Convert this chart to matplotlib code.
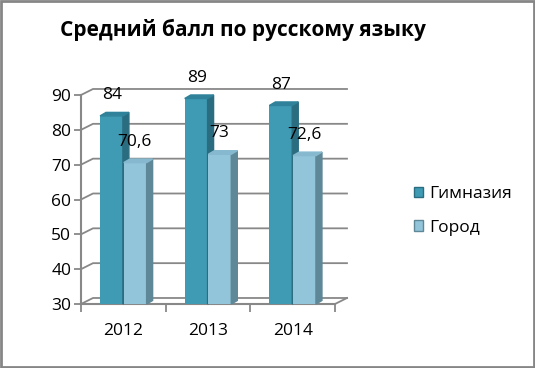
import matplotlib.pyplot as plt
from matplotlib.patches import Polygon, Rectangle

years = ["2012", "2013", "2014"]
gymnasium = [84, 89, 87]
city = [70.6, 73, 72.6]
gym_labels = ["84", "89", "87"]
city_labels = ["70,6", "73", "72,6"]

plt.rcParams["font.family"] = ["Open Sans", "DejaVu Sans"]

GRID = "#888888"
# front / side / top colours for each series
gym_cols = ("#3f9ab4", "#2a6d80", "#2f8299")
city_cols = ("#92c5da", "#5e8797", "#86b9cf")

fig = plt.figure(figsize=(5.35, 3.68), dpi=100)
ax = fig.add_axes([81 / 535, 64 / 368, 254 / 535, 209 / 368])
ax.set_xlim(0, 3)
ax.set_ylim(30, 90)

# depth of the back wall and of the bars, in data units
wall_dx, wall_dy = 12 / 84.7, 6 / 3.48
bar_dx, bar_dy = 6 / 84.7, 3.5 / 3.48
width = 0.27

# back wall gridlines and floor
for y in range(30, 91, 10):
    ax.plot([0, wall_dx, 3 + wall_dx], [y, y + wall_dy, y + wall_dy],
            color=GRID, lw=1.3, clip_on=False, zorder=1)
ax.plot([3, 3 + wall_dx], [30, 30 + wall_dy], color=GRID, lw=1.3,
        clip_on=False, zorder=1)


def bar3d(x0, value, cols):
    ax.bar(x0, value - 30, width, bottom=30, align="edge", color=cols[0],
           zorder=3, clip_on=False)
    side = [(x0 + width, 30), (x0 + width + bar_dx, 30 + bar_dy),
            (x0 + width + bar_dx, value + bar_dy), (x0 + width, value)]
    top = [(x0, value), (x0 + bar_dx, value + bar_dy),
           (x0 + width + bar_dx, value + bar_dy), (x0 + width, value)]
    ax.add_patch(Polygon(side, closed=True, color=cols[1], zorder=3, clip_on=False))
    ax.add_patch(Polygon(top, closed=True, color=cols[2], zorder=3, clip_on=False))


for i in range(len(years)):
    c = i + 0.5
    bar3d(c - width - 0.005, gymnasium[i], gym_cols)
    bar3d(c + 0.005, city[i], city_cols)
    ax.annotate(gym_labels[i], (c - width / 2, gymnasium[i]), xytext=(0, 15),
                textcoords="offset points", ha="center", va="center",
                fontsize=12.5, zorder=5)
    ax.annotate(city_labels[i], (c + width / 2, city[i]), xytext=(0, 15),
                textcoords="offset points", ha="center", va="center",
                fontsize=12.5, zorder=5)

# axes styling
for s in ["top", "right"]:
    ax.spines[s].set_visible(False)
for s in ["left", "bottom"]:
    ax.spines[s].set_color(GRID)
    ax.spines[s].set_linewidth(1.5)
ax.set_yticks(range(30, 91, 10))
ax.tick_params(axis="y", length=5, color=GRID, width=1.3, labelsize=12.5, pad=2)
ax.set_xticks([0, 1, 2, 3])
ax.set_xticklabels([])
ax.tick_params(axis="x", which="major", length=6, color=GRID, width=1.3)
ax.set_xticks([0.5, 1.5, 2.5], minor=True)
ax.set_xticklabels(years, minor=True)
ax.tick_params(axis="x", which="minor", length=0, labelsize=12.5, pad=14)

# legend
handles = [Rectangle((0, 0), 1, 1, facecolor=gym_cols[0], edgecolor=gym_cols[1]),
           Rectangle((0, 0), 1, 1, facecolor=city_cols[0], edgecolor=city_cols[1])]
fig.legend(handles, ["Гимназия", "Город"], loc="center left",
           bbox_to_anchor=(398 / 535, 1 - 211 / 368), frameon=False,
           fontsize=12.5, handlelength=0.55, handleheight=0.55, handletextpad=0.35,
           labelspacing=1.0)

fig.text(60 / 535, 1 - 30 / 368, "Средний балл по русскому языку",
         fontsize=15, fontweight="bold", ha="left", va="center")

# outer chart border
fig.patches.append(Rectangle((0.002, 0.003), 0.996, 0.994, transform=fig.transFigure,
                             fill=False, edgecolor="#868686", lw=2))

fig.savefig("out.png", dpi=100)
